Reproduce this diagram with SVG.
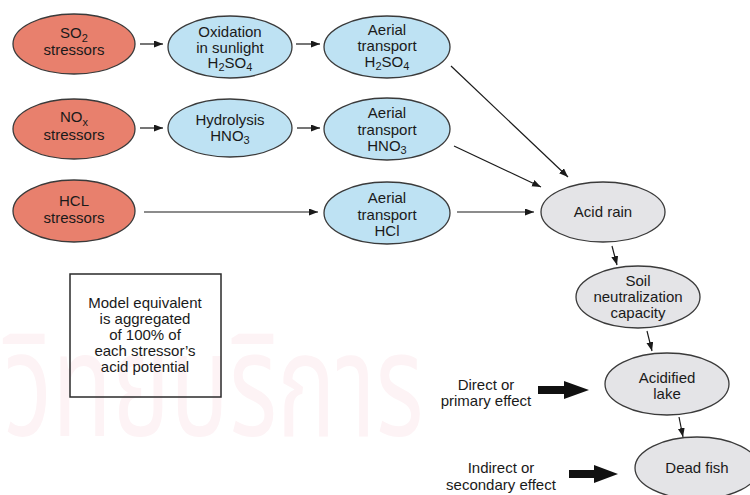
<svg xmlns="http://www.w3.org/2000/svg" width="750" height="495" viewBox="0 0 750 495">
  <defs>
    <marker id="arrow" markerUnits="userSpaceOnUse" markerWidth="10" markerHeight="8" refX="9" refY="3.5" orient="auto">
      <path d="M0,0 L9,3.5 L0,7 Z" fill="#1a1a1a"/>
    </marker>
    <style>
      text { font-family: "Liberation Sans", Arial, sans-serif; font-size: 15px; fill: #1a1a1a; text-anchor: middle; }
      .sub { font-size: 11px; }
      .node ellipse { stroke: #3a3a3a; stroke-width: 1.3; }
      .src ellipse { fill: #E8806D; }
      .mid ellipse { fill: #BEE2F3; }
      .eff ellipse { fill: #E4E4E7; }
      .conn line { stroke: #1a1a1a; stroke-width: 1.2; marker-end: url(#arrow); }
      .wm { font-family: "Noto Sans Thai", "Noto Sans", "DejaVu Sans", sans-serif; font-size: 98px; fill: #FDF3F5; text-anchor: start; }
    </style>
  </defs>

  <rect width="750" height="495" fill="#ffffff"/>

  <!-- faint background stamp, stretched vertically -->
  <text class="wm" transform="translate(4,436) scale(1,1.48)" x="0" y="0">วิทยบริการ</text>

  <!-- connectors -->
  <g id="connectors" class="conn">
    <line x1="140" y1="44" x2="163" y2="44"/>
    <line x1="296" y1="44" x2="320" y2="44"/>
    <line x1="140" y1="128" x2="163" y2="128"/>
    <line x1="297" y1="128" x2="320" y2="128"/>
    <line x1="144" y1="212" x2="318" y2="212"/>
    <line x1="457" y1="212" x2="534" y2="212"/>
    <line x1="451" y1="66" x2="568" y2="177"/>
    <line x1="454" y1="146" x2="541" y2="187"/>
    <line x1="612" y1="246" x2="617" y2="265"/>
    <line x1="647" y1="331" x2="652" y2="351"/>
    <line x1="679" y1="417" x2="683" y2="437"/>
  </g>

  <!-- source stressors -->
  <g id="so2" class="node src">
    <ellipse cx="74" cy="44" rx="61" ry="30"/>
    <text x="74" y="38">SO<tspan class="sub" dy="4">2</tspan></text>
    <text x="74" y="55">stressors</text>
  </g>
  <g id="nox" class="node src">
    <ellipse cx="74" cy="129" rx="61" ry="30"/>
    <text x="74" y="122">NO<tspan class="sub" dy="4">x</tspan></text>
    <text x="74" y="140">stressors</text>
  </g>
  <g id="hcl" class="node src">
    <ellipse cx="74" cy="211" rx="61" ry="31"/>
    <text x="74" y="206">HCL</text>
    <text x="74" y="223">stressors</text>
  </g>

  <!-- intermediate processes -->
  <g id="oxidation" class="node mid">
    <ellipse cx="230" cy="47" rx="62" ry="31"/>
    <text x="230" y="37">Oxidation</text>
    <text x="230" y="53">in sunlight</text>
    <text x="230" y="68">H<tspan class="sub" dy="3">2</tspan><tspan dy="-3">SO</tspan><tspan class="sub" dy="3">4</tspan></text>
  </g>
  <g id="hydrolysis" class="node mid">
    <ellipse cx="230" cy="128" rx="62" ry="29"/>
    <text x="230" y="125">Hydrolysis</text>
    <text x="230" y="141">HNO<tspan class="sub" dy="3">3</tspan></text>
  </g>
  <g id="aerial-h2so4" class="node mid">
    <ellipse cx="387" cy="47" rx="63" ry="31"/>
    <text x="387" y="35">Aerial</text>
    <text x="387" y="51">transport</text>
    <text x="387" y="67">H<tspan class="sub" dy="3">2</tspan><tspan dy="-3">SO</tspan><tspan class="sub" dy="3">4</tspan></text>
  </g>
  <g id="aerial-hno3" class="node mid">
    <ellipse cx="387" cy="129" rx="63" ry="31"/>
    <text x="387" y="118">Aerial</text>
    <text x="387" y="135">transport</text>
    <text x="387" y="151">HNO<tspan class="sub" dy="3">3</tspan></text>
  </g>
  <g id="aerial-hcl" class="node mid">
    <ellipse cx="387" cy="213" rx="63" ry="31"/>
    <text x="387" y="203">Aerial</text>
    <text x="387" y="220">transport</text>
    <text x="387" y="236">HCl</text>
  </g>

  <!-- effects chain -->
  <g id="acid-rain" class="node eff">
    <ellipse cx="603" cy="212" rx="62" ry="30"/>
    <text x="603" y="217">Acid rain</text>
  </g>
  <g id="soil" class="node eff">
    <ellipse cx="638" cy="297" rx="62" ry="31"/>
    <text x="638" y="286">Soil</text>
    <text x="638" y="302">neutralization</text>
    <text x="638" y="318">capacity</text>
  </g>
  <g id="lake" class="node eff">
    <ellipse cx="667" cy="384" rx="62" ry="31"/>
    <text x="667" y="383">Acidified</text>
    <text x="667" y="399">lake</text>
  </g>
  <g id="dead-fish" class="node eff">
    <ellipse cx="697" cy="468" rx="62" ry="31"/>
    <text x="697" y="473">Dead fish</text>
  </g>

  <!-- note box -->
  <g id="note">
    <rect x="70" y="274" width="151" height="123" fill="none" stroke="#2a2a2a" stroke-width="1.5"/>
    <text x="145" y="308">Model equivalent</text>
    <text x="145" y="324">is aggregated</text>
    <text x="145" y="340">of 100% of</text>
    <text x="145" y="356">each stressor’s</text>
    <text x="145" y="372">acid potential</text>
  </g>

  <!-- legend -->
  <g id="legend-direct">
    <text x="486" y="390">Direct or</text>
    <text x="486" y="406">primary effect</text>
    <path d="M538,386 L564,386 L564,381 L589,390 L564,399 L564,394 L538,394 Z" fill="#111111"/>
  </g>
  <g id="legend-indirect">
    <text x="501" y="473">Indirect or</text>
    <text x="501" y="490">secondary effect</text>
    <path d="M569,470 L594,470 L594,465 L618,474 L594,483 L594,478 L569,478 Z" fill="#111111"/>
  </g>
</svg>
